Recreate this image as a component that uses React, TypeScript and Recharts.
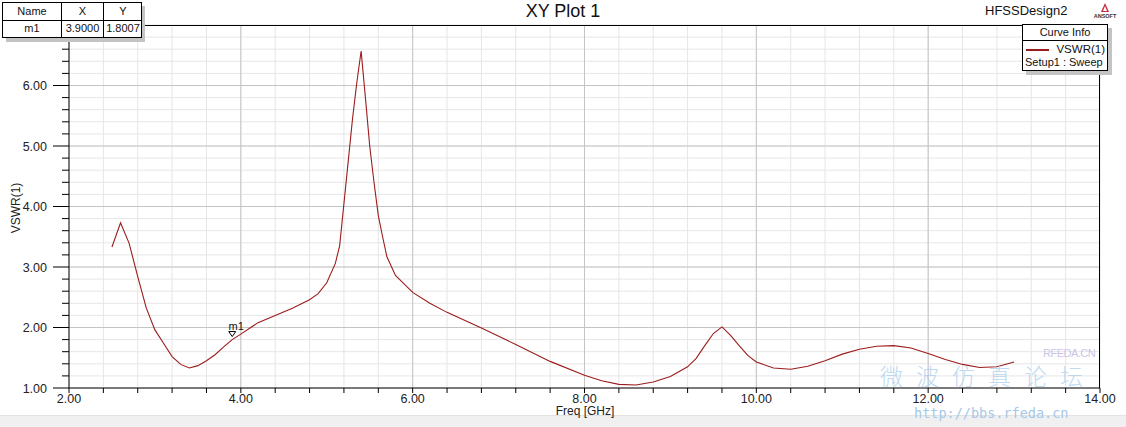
import React from 'react';
import { LineChart, Line, XAxis, YAxis, CartesianGrid, ReferenceLine, ReferenceDot } from 'recharts';

// sweep values
const freqGHz = [
  2.5, 2.6, 2.7, 2.8, 2.9, 3.0, 3.1, 3.2, 3.3, 3.4, 3.5, 3.6, 3.7, 3.8, 3.9, 4.0,
  4.2, 4.4, 4.6, 4.8, 4.9, 5.0, 5.1, 5.15, 5.2, 5.25, 5.3, 5.35, 5.4, 5.45, 5.5,
  5.55, 5.6, 5.65, 5.7, 5.8, 5.9, 6.0, 6.2, 6.4, 6.8, 7.2, 7.6, 8.0, 8.2, 8.4,
  8.6, 8.8, 9.0, 9.2, 9.3, 9.4, 9.5, 9.6, 9.7, 9.8, 9.9, 10.0, 10.2, 10.4, 10.6,
  10.8, 11.0, 11.2, 11.4, 11.6, 11.8, 12.0, 12.2, 12.4, 12.6, 12.8, 13.0,
];
const vswr = [
  3.33, 3.73, 3.39, 2.84, 2.32, 1.96, 1.74, 1.52, 1.39, 1.33, 1.37, 1.45, 1.55, 1.68, 1.8, 1.89,
  2.08, 2.2, 2.32, 2.46, 2.56, 2.74, 3.06, 3.35, 4.05, 4.75, 5.45, 6.05, 6.57, 5.8, 5.0,
  4.4, 3.85, 3.5, 3.17, 2.86, 2.72, 2.58, 2.4, 2.25, 1.99, 1.72, 1.44, 1.21, 1.12, 1.06,
  1.05, 1.1, 1.19, 1.35, 1.49, 1.7, 1.9, 2.01, 1.87, 1.7, 1.54, 1.43, 1.33, 1.31, 1.36,
  1.45, 1.56, 1.64, 1.69, 1.7, 1.66, 1.57, 1.47, 1.39, 1.34, 1.35, 1.43,
];

const xTicks = [
  2, 2.4, 2.8, 3.2, 3.6, 4, 4.4, 4.8, 5.2, 5.6, 6, 6.4, 6.8, 7.2, 7.6, 8,
  8.4, 8.8, 9.2, 9.6, 10, 10.4, 10.8, 11.2, 11.6, 12, 12.4, 12.8, 13.2, 13.6, 14,
];
const xMajor = [2, 4, 6, 8, 10, 12, 14];
const yTicks = [
  1, 1.2, 1.4, 1.6, 1.8, 2, 2.2, 2.4, 2.6, 2.8, 3, 3.2, 3.4, 3.6, 3.8, 4,
  4.2, 4.4, 4.6, 4.8, 5, 5.2, 5.4, 5.6, 5.8, 6, 6.2, 6.4, 6.6, 6.8, 7,
];
const yMajor = [1, 2, 3, 4, 5, 6];

const marker = { name: 'm1', x: 3.9, y: 1.8007 };

const data = freqGHz.map((f, i) => ({ f, v: vswr[i] }));

const FONT = '"Liberation Sans", Arial, sans-serif';
const curveColor = '#9b1c1c';

const isMajor = (list: number[], v: number) => list.some(m => Math.abs(m - v) < 1e-6);

const XTick = (props: any) => {
  const { x, y, payload } = props;
  const major = isMajor(xMajor, payload.value);
  return (
    <g>
      <line x1={x} x2={x} y1={y} y2={y + 5} stroke="#000" />
      {major && (
        <text x={x} y={y + 15} textAnchor="middle" fontSize={12.5} fill="#222" fontFamily={FONT}>
          {payload.value.toFixed(2)}
        </text>
      )}
    </g>
  );
};

const YTick = (props: any) => {
  const { x, y, payload } = props;
  const major = isMajor(yMajor, payload.value);
  return (
    <g>
      <line x1={x - (major ? 16 : 7)} x2={x} y1={y} y2={y} stroke="#000" />
      {major && (
        <text x={x - 22} y={y + 4.5} textAnchor="end" fontSize={12.5} fill="#222" fontFamily={FONT}>
          {payload.value.toFixed(2)}
        </text>
      )}
    </g>
  );
};

const MarkerShape = (props: any) => {
  const { cx, cy } = props;
  return (
    <g>
      <polygon
        points={`${cx - 3.5},${cy - 8} ${cx + 3.5},${cy - 8} ${cx},${cy - 3}`}
        fill="none"
        stroke="#000"
        strokeWidth={1}
      />
      <text x={cx + 4} y={cy - 10} textAnchor="middle" fontSize={11} fill="#111" fontFamily={FONT}>
        {marker.name}
      </text>
    </g>
  );
};

const cell: React.CSSProperties = {
  position: 'absolute',
  borderRight: '1px solid #000',
  boxSizing: 'border-box',
  textAlign: 'center',
  fontSize: 11,
  lineHeight: '17px',
  color: '#111',
};

const App: React.FC = () => {
  return (
    <div style={{ position: 'absolute', left: 0, top: 0, width: 1126, height: 427, background: '#fff', fontFamily: FONT, overflow: 'hidden' }}>
      <LineChart width={1126} height={427} data={data} margin={{ top: 25, right: 26, left: 0, bottom: 19 }}>
        <CartesianGrid stroke="#e6e6e6" strokeWidth={1} />
        {xMajor.slice(1, -1).map(v => (
          <ReferenceLine key={`xm${v}`} x={v} stroke="#c4c4c4" />
        ))}
        {yMajor.slice(1).map(v => (
          <ReferenceLine key={`ym${v}`} y={v} stroke="#c4c4c4" />
        ))}
        <XAxis
          dataKey="f"
          type="number"
          domain={[2, 14]}
          ticks={xTicks}
          interval={0}
          height={20}
          tickSize={0}
          tickMargin={0}
          tick={<XTick />}
          axisLine={{ stroke: '#000' }}
          allowDataOverflow
        />
        <YAxis
          type="number"
          domain={[1, 7]}
          ticks={yTicks}
          interval={0}
          width={69}
          tickSize={0}
          tickMargin={0}
          tick={<YTick />}
          axisLine={{ stroke: '#000' }}
          allowDataOverflow
        />
        <Line
          type="linear"
          dataKey="v"
          stroke={curveColor}
          strokeWidth={1.1}
          dot={false}
          isAnimationActive={false}
        />
        <ReferenceDot x={marker.x} y={marker.y} shape={<MarkerShape />} />
      </LineChart>

      {/* plot frame top / right */}
      <div style={{ position: 'absolute', left: 69, top: 25, width: 1031, height: 363, borderTop: '1px solid #000', borderRight: '1px solid #000', boxSizing: 'border-box', pointerEvents: 'none' }} />

      {/* bottom band */}
      <div style={{ position: 'absolute', left: 0, top: 415, width: 1126, height: 12, background: '#f0f0f0', borderTop: '1px solid #e2e2e2' }} />

      {/* title */}
      <div style={{ position: 'absolute', left: 0, top: 0, width: 1126, textAlign: 'center', fontSize: 18, lineHeight: '22px', color: '#111' }}>XY Plot 1</div>
      <div style={{ position: 'absolute', left: 985, top: 3, fontSize: 13, lineHeight: '16px', color: '#111' }}>HFSSDesign2</div>
      <svg style={{ position: 'absolute', left: 1092, top: 2 }} width={26} height={18}>
        <polygon points="13,1 9,10 17,10" fill="#c8283c" />
        <polygon points="13,4 11,9 15,9" fill="#fff" />
        <text x={13} y={16} textAnchor="middle" fontSize={5.5} fontWeight="bold" fill="#333" fontFamily={FONT}>ANSOFT</text>
      </svg>

      {/* axis titles */}
      <div style={{ position: 'absolute', left: 16, top: 208, width: 0, height: 0 }}>
        <div style={{ position: 'absolute', transform: 'translate(-50%, -50%) rotate(-90deg)', fontSize: 12, whiteSpace: 'nowrap', color: '#222' }}>VSWR(1)</div>
      </div>
      <div style={{ position: 'absolute', left: 485, top: 405, width: 200, textAlign: 'center', fontSize: 12, lineHeight: '13px', color: '#222' }}>Freq [GHz]</div>

      {/* marker table */}
      <div style={{ position: 'absolute', left: 6, top: 6, width: 139, height: 36, background: '#c4c4c4' }} />
      <div style={{ position: 'absolute', left: 2, top: 2, width: 140, height: 36, background: '#fff', border: '1px solid #000', boxSizing: 'border-box' }}>
        <div style={{ ...cell, left: 0, top: 0, width: 59, height: 17 }}>Name</div>
        <div style={{ ...cell, left: 59, top: 0, width: 42, height: 17 }}>X</div>
        <div style={{ ...cell, left: 101, top: 0, width: 38, height: 17, borderRight: 'none' }}>Y</div>
        <div style={{ position: 'absolute', left: 0, top: 17, width: 138, borderTop: '1px solid #000' }} />
        <div style={{ ...cell, left: 0, top: 17, width: 59, height: 17 }}>{marker.name}</div>
        <div style={{ ...cell, left: 59, top: 17, width: 42, height: 17 }}>{marker.x.toFixed(4)}</div>
        <div style={{ ...cell, left: 101, top: 17, width: 38, height: 17, borderRight: 'none' }}>{marker.y.toFixed(4)}</div>
      </div>

      {/* curve info legend */}
      <div style={{ position: 'absolute', left: 1026, top: 28, width: 86, height: 47, background: '#c4c4c4' }} />
      <div style={{ position: 'absolute', left: 1022, top: 24, width: 86, height: 47, background: '#fff', border: '1px solid #000', boxSizing: 'border-box', fontSize: 11, color: '#111' }}>
        <div style={{ height: 15, lineHeight: '15px', textAlign: 'center', borderBottom: '1px solid #000' }}>Curve Info</div>
        <div style={{ position: 'absolute', left: 3, top: 24, width: 23, height: 2, background: curveColor }} />
        <div style={{ position: 'absolute', right: 2, top: 18, lineHeight: '13px', fontSize: 11.5 }}>VSWR(1)</div>
        <div style={{ position: 'absolute', left: 2, top: 31, lineHeight: '13px' }}>Setup1 : Sweep</div>
      </div>

      {/* forum watermark */}
      <div style={{ position: 'absolute', left: 1043, top: 347, fontSize: 11, color: '#c8bde6', opacity: 0.9, letterSpacing: -0.5 }}>RFEDA.CN</div>
      <div style={{ position: 'absolute', left: 880, top: 364, fontSize: 23, lineHeight: '23px', color: '#a9cfee', opacity: 0.75, letterSpacing: 13, fontFamily: '"Noto Sans CJK SC", sans-serif', fontWeight: 300 }}>微波仿真论坛</div>
      <div style={{ position: 'absolute', left: 914, top: 407, fontSize: 13.5, lineHeight: '12px', color: '#a6c8e8', fontFamily: '"DejaVu Sans Mono", monospace' }}>http://bbs.rfeda.cn</div>
    </div>
  );
};

export default App;
